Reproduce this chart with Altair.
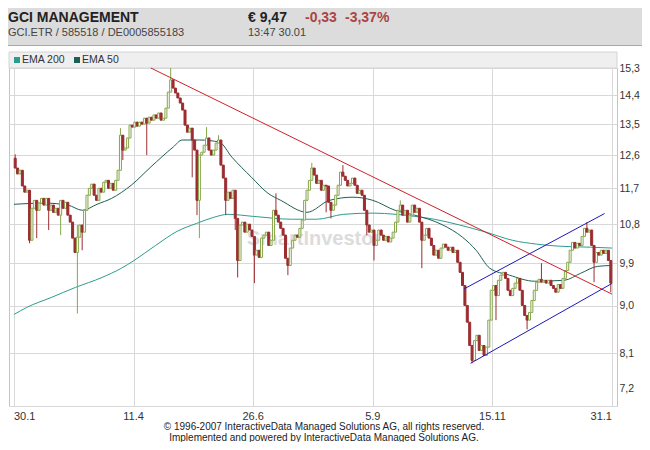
import altair as alt
import pandas as pd

# ---------------- data ----------------
label_days = [0, 50, 100, 150, 200, 250]
label_text = ["30.1", "11.4", "26.6", "5.9", "15.11", "31.1"]
y_ticks = [7.2, 8.1, 9.0, 9.9, 10.8, 11.7, 12.6, 13.5, 14.4, 15.3]

first_open = 12.51
closes = [
    12.24, 12.08, 12.18, 11.76, 11.60, 11.65, 10.42, 11.19, 11.39, 11.14,
    11.32, 11.44, 11.27, 11.44, 11.14, 11.27, 11.09, 11.19, 11.02, 11.39,
    11.19, 11.34, 11.02, 10.85, 10.47, 10.14, 10.49, 10.78, 10.61, 11.14,
    11.52, 11.70, 11.81, 11.52, 11.39, 11.70, 11.60, 11.86, 11.91, 11.70,
    11.83, 11.65, 11.91, 12.18, 13.17, 12.74, 12.80, 13.09, 13.47, 13.41,
    13.56, 13.44, 13.56, 13.50, 13.68, 13.53, 13.71, 13.62, 13.78, 13.68,
    13.84, 13.62, 13.68, 13.99, 14.50, 14.90, 14.63, 14.47, 14.31, 14.15,
    13.93, 13.47, 13.26, 13.38, 13.03, 12.74, 11.39, 12.60, 12.68, 12.88,
    13.09, 12.74, 12.60, 12.74, 12.94, 13.03, 12.32, 11.97, 11.39, 11.60,
    11.44, 11.65, 10.94, 9.96, 10.78, 10.85, 10.61, 10.80, 10.66, 10.51,
    10.08, 10.19, 10.03, 10.47, 10.54, 10.61, 10.30, 10.42, 11.14, 11.02,
    10.85, 10.70, 10.54, 10.01, 9.85, 10.24, 10.42, 10.54, 10.49, 10.70,
    10.90, 11.39, 11.65, 11.91, 12.24, 12.05, 11.83, 11.91, 11.65, 11.78,
    11.76, 11.34, 11.14, 11.27, 11.52, 11.78, 12.13, 12.02, 11.91, 11.76,
    11.83, 11.97, 11.78, 11.57, 11.65, 11.52, 11.14, 10.78, 10.61, 10.66,
    10.30, 10.42, 10.66, 10.54, 10.42, 10.51, 10.38, 10.47, 10.61, 10.85,
    11.14, 11.27, 11.02, 11.14, 10.85, 11.02, 11.27, 11.09, 11.19, 10.85,
    10.42, 10.54, 10.70, 10.47, 10.30, 10.08, 10.19, 10.01, 10.24, 10.33,
    10.26, 10.19, 10.26, 10.14, 10.19, 9.92, 9.70, 9.42, 9.01, 8.68,
    8.24, 7.97, 8.33, 8.43, 8.15, 8.24, 8.06, 8.21, 8.72, 9.32,
    9.42, 9.21, 9.53, 9.64, 9.70, 9.57, 9.32, 9.21, 9.36, 9.47,
    9.57, 9.32, 9.01, 8.81, 8.72, 8.87, 9.11, 9.32, 9.49, 9.55,
    9.49, 9.53, 9.47, 9.53, 9.42, 9.36, 9.28, 9.44, 9.36, 9.57,
    9.74, 9.92, 10.19, 10.37, 10.24, 10.35, 10.30, 10.51, 10.70, 10.61,
    10.66, 10.30, 9.92, 10.14, 10.08, 10.19, 10.12, 10.19, 9.96, 9.47,
]
wick_high = {0: 12.62, 26: 10.78, 44: 13.38, 65: 15.3, 80: 13.41, 85: 13.17,
             109: 11.57, 124: 12.38, 137: 12.32, 161: 11.39, 220: 9.90, 239: 10.85}
wick_low = {6: 10.35, 9: 10.47, 14: 10.66, 19: 10.54, 26: 8.85, 28: 10.19,
            45: 12.46, 55: 12.60, 74: 11.99, 76: 11.02, 77: 10.47, 88: 11.02,
            92: 10.66, 93: 9.59, 100: 9.47, 114: 9.64, 130: 11.09, 132: 10.94,
            147: 10.54, 150: 9.96, 170: 9.79, 191: 7.92, 201: 8.72, 214: 8.54,
            242: 9.49, 249: 9.28}

ema200_days = [0, 5.3, 15.5, 25.7, 36.8, 44.9, 50.2, 59.2, 68.2, 76.4, 83.7, 89.5,
               100, 116.4, 126.6, 137.7, 150, 159.7, 167.5, 175.7, 186.3, 197.3,
               208.3, 218.5, 228.8, 241, 250]
ema200_vals = [8.83, 8.97, 9.17, 9.38, 9.59, 9.79, 9.96, 10.30, 10.63, 10.82, 10.97, 11.04,
               10.99, 10.92, 10.92, 11.04, 11.07, 11.04, 10.99, 10.92, 10.78, 10.61,
               10.42, 10.33, 10.28, 10.26, 10.24]
ema50_days = [0, 12.7, 22.5, 28.6, 34.7, 40.8, 49, 57.2, 66.6, 70.3, 77.6, 85.8, 91.1,
              99.3, 106.2, 111.5, 122.5, 131.9, 141.7, 150, 159.3, 167.5, 179.3, 187.5,
              193.2, 198.9, 207.1, 217.7, 230, 236.9, 243.9, 250]
ema50_vals = [11.29, 11.32, 11.27, 11.14, 11.29, 11.44, 11.78, 12.27, 12.83, 13.03, 13.03,
              12.97, 12.54, 11.99, 11.57, 11.39, 11.09, 11.39, 11.47, 11.39, 11.14, 11.02,
              10.78, 10.49, 10.19, 9.79, 9.64, 9.51, 9.53, 9.68, 9.83, 9.85]

red_days = [57.2, 250]
red_vals = [15.3, 9.24]
blue_names = ["up", "up", "low", "low"]
blue_days = [188.2, 246.9, 190.9, 249.9]
blue_vals = [9.35, 11.06, 7.92, 9.46]

# ---------------- tables ----------------
rows = []
prev = first_open
for i, c in enumerate(closes):
    o = prev
    rows.append(dict(
        d=i + 0.5, open=o, close=c,
        high=max(o, c, wick_high.get(i, c)),
        low=min(o, c, wick_low.get(i, c)),
        dir="up" if c >= o else "down",
    ))
    prev = c
candles = pd.DataFrame(rows)
ema200 = pd.DataFrame({"d": ema200_days, "p": ema200_vals})
ema50 = pd.DataFrame({"d": ema50_days, "p": ema50_vals})
red_line = pd.DataFrame({"d": red_days, "p": red_vals})
blue_lines = pd.DataFrame({"line": blue_names, "d": blue_days, "p": blue_vals})
xlab = pd.DataFrame({"d": label_days, "t": label_text})

# ---------------- styling ----------------
GREEN = "#86a64a"
RED = "#9b2d30"
C200 = "#2c9c8e"
C50 = "#1f5e54"
FONT = "Liberation Sans"
W, H = 608, 338

xscale = alt.Scale(domain=[0, 250], nice=False, zero=False)
yscale = alt.Scale(type="log", domain=[7.2, 15.3], nice=False)
xaxis = alt.Axis(values=label_days, labels=False, grid=True,
                 ticks=False, domain=False, title=None)
yaxis = alt.Axis(orient="right", values=y_ticks,
                 labelExpr="replace(format(datum.value, '.1f'), '.', ',')",
                 ticks=False, domain=False, title=None, labelPadding=2,
                 labelOffset={"condition": {"test": "datum.value < 7.5", "value": -18}, "value": 0})


def X(f):
    return alt.X(f + ":Q", scale=xscale, axis=xaxis)


def Y(f):
    return alt.Y(f + ":Q", scale=yscale, axis=yaxis)


wicks = alt.Chart(candles).mark_rule(strokeWidth=1).encode(
    x=X("d"), y=Y("low"), y2="high",
    stroke=alt.Stroke("dir:N", scale=alt.Scale(domain=["up", "down"], range=[GREEN, RED]), legend=None),
)
bodies = alt.Chart(candles).mark_bar(size=2, strokeWidth=1).encode(
    x=X("d"), y=Y("open"), y2="close",
    fill=alt.Fill("dir:N", scale=alt.Scale(domain=["up", "down"], range=["#ffffff", RED]), legend=None),
    stroke=alt.Stroke("dir:N", scale=alt.Scale(domain=["up", "down"], range=[GREEN, RED]), legend=None),
)
l200 = alt.Chart(ema200).mark_line(color=C200, strokeWidth=1, interpolate="monotone").encode(x=X("d"), y=Y("p"))
l50 = alt.Chart(ema50).mark_line(color=C50, strokeWidth=1, interpolate="monotone").encode(x=X("d"), y=Y("p"))
rl = alt.Chart(red_line).mark_line(color="#d0202a", strokeWidth=1).encode(x=X("d"), y=Y("p"))
bl = alt.Chart(blue_lines).mark_line(color="#1a1ab8", strokeWidth=1).encode(
    x=X("d"), y=Y("p"), detail="line:N")
wm = alt.Chart(pd.DataFrame({"d": [125.4], "p": [10.44], "t": ["SmartInvestor"]})).mark_text(
    font=FONT, fontSize=20, fontWeight="bold", color="#dcdcdc", align="center", baseline="middle"
).encode(x=X("d"), y=Y("p"), text="t:N")


def xlabels(sub, align):
    return alt.Chart(sub).mark_text(
        font=FONT, fontSize=11, color="#333333", align=align, baseline="middle"
    ).encode(x=X("d"), y=alt.value(H + 11), text="t:N")


xl_first = xlabels(xlab.iloc[:1], "left")
xl_mid = xlabels(xlab.iloc[1:-1], "center")
xl_last = xlabels(xlab.iloc[-1:], "right")


def rect(x0, x1, y0, y1, fill, stroke=None):
    kw = {"fill": fill}
    if stroke:
        kw["stroke"] = stroke
        kw["strokeWidth"] = 1
    return alt.Chart(pd.DataFrame({"a": [0]})).mark_rect(**kw).encode(
        x=alt.value(x0), x2=alt.value(x1), y=alt.value(y0), y2=alt.value(y1))


def txt(s, x, y, size=11, weight="normal", color="#333333", align="left"):
    return alt.Chart(pd.DataFrame({"t": [s]})).mark_text(
        font=FONT, fontSize=size, fontWeight=weight, color=color, align=align, baseline="middle"
    ).encode(x=alt.value(x), y=alt.value(y), text="t:N")


HRED = "#ad4444"
deco = [
    rect(-10, 650, -70, -23, "#dcdcdc"),
    rect(-10, 650, -23, -22, "#a8a8a8"),
    rect(0, W, -16, 0, "#efefef", "#d4d4d4"),
    rect(5, 11, -11, -5, C200),
    rect(65, 71, -11, -5, C50),
    txt("EMA 200", 13, -8, 10.5),
    txt("EMA 50", 73, -8, 10.5),
    txt("GCI MANAGEMENT", -1, -50, 14, "bold", "#222222"),
    txt("€ 9,47", 239, -50, 14, "bold", "#222222"),
    txt("-0,33", 296, -50, 14, "bold", HRED),
    txt("-3,37%", 336, -50, 14, "bold", HRED),
    txt("GCI.ETR  /  585518  /  DE0005855183", -1, -35, 11, "normal", "#444444"),
    txt("13:47   30.01", 239, -35, 11, "normal", "#444444"),
    txt("© 1996-2007 InteractiveData Managed Solutions  AG, all rights reserved.", 315, 359, 10, "normal", "#222222", "center"),
    txt("Implemented and powered by  InteractiveData Managed Solutions  AG.", 315, 370, 10, "normal", "#222222", "center"),
]

chart = alt.layer(
    *deco, wm, l200, l50, wicks, bodies, rl, bl, xl_first, xl_mid, xl_last
).properties(
    width=W, height=H,
    autosize=alt.AutoSizeParams(type="none"),
    padding={"left": 1, "top": 60, "right": 25, "bottom": 36},
    background="white",
).configure_view(
    stroke="#c4c4c4"
).configure_axis(
    labelFont=FONT, labelFontSize=10.5, labelColor="#333333",
    gridColor="#d8d8d8", gridWidth=1,
)

chart.save("out.html", embed_options={"renderer": "svg", "actions": False})
